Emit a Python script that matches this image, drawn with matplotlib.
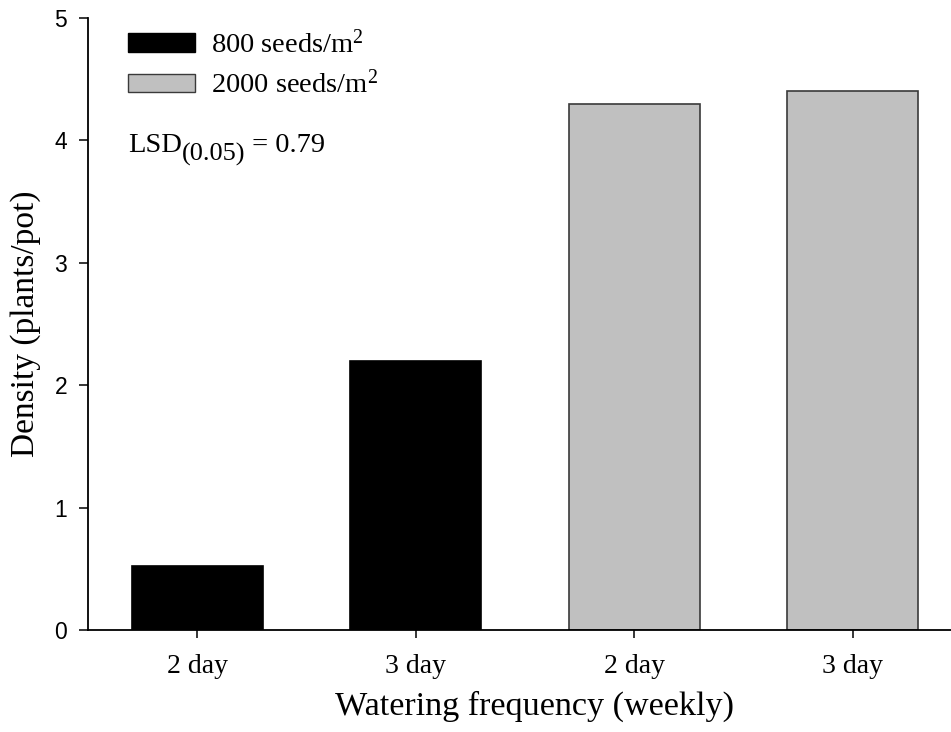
"""
Seedling density by watering frequency and sowing rate
"""

import matplotlib
matplotlib.use('Agg')
import matplotlib.pyplot as plt
from matplotlib.patches import Patch

# Data
tick_labels = ['2 day', '3 day', '2 day', '3 day']
density = [0.52, 2.20, 4.30, 4.40]
groups = ['800', '800', '2000', '2000']
lsd_value = 0.79

colors = {'800': 'black', '2000': '#c0c0c0'}
edges = {'800': 'black', '2000': '#3a3a3a'}

plt.rcParams['mathtext.fontset'] = 'custom'
plt.rcParams['mathtext.rm'] = 'Liberation Serif'
plt.rcParams['mathtext.it'] = 'Liberation Serif:italic'

W, H = 951, 732
fig = plt.figure(figsize=(W / 100, H / 100), dpi=100)
# axes box in pixels: left spine at 88, x-axis at 630, top at 18
ax = fig.add_axes([88 / W, (H - 630) / H, 874 / W, (630 - 18) / H])

x = list(range(len(density)))
ax.bar(x, density, width=0.6,
       color=[colors[g] for g in groups],
       edgecolor=[edges[g] for g in groups], linewidth=1.2)

ax.set_xlim(-0.5, 3.5)
ax.set_ylim(0, 5)
ax.set_yticks([0, 1, 2, 3, 4, 5])
ax.set_xticks(x)
ax.set_xticklabels(tick_labels, family='Liberation Serif', fontsize=20)
for lab in ax.get_yticklabels():
    lab.set_family('Liberation Sans')
    lab.set_fontsize(16.5)

for side in ['top', 'right']:
    ax.spines[side].set_visible(False)
for side in ['left', 'bottom']:
    ax.spines[side].set_linewidth(1.3)
ax.tick_params(axis='y', length=6.5, width=1.1, pad=8.5)
ax.tick_params(axis='x', length=6, width=1.1, pad=11)

ax.set_xlabel('Watering frequency (weekly)', family='Liberation Serif',
              fontsize=24.6)
ax.xaxis.set_label_coords((535 - 88) / 874, -(691 - 630) / 612)
ax.xaxis.label.set_va('top')
ax.set_ylabel('Density (plants/pot)', family='Liberation Serif',
              fontsize=24, labelpad=10)

# legend
handles = [Patch(facecolor=colors['800'], edgecolor=edges['800'], linewidth=1),
           Patch(facecolor=colors['2000'], edgecolor=edges['2000'], linewidth=1)]
leg = ax.legend(handles, ['800 seeds/m$^2$', '2000 seeds/m$^2$'],
                loc='upper left', bbox_to_anchor=(26 / 874, 1.0 + 2 / 612),
                frameon=False, borderaxespad=0.2, borderpad=0.3,
                handlelength=2.35, handleheight=0.63, handletextpad=0.55,
                labelspacing=0.41,
                prop={'family': 'Liberation Serif', 'size': 20.5})

# LSD annotation with a full-size subscript
t1 = ax.text((128 - 88) / 874, 1 - (152 - 18) / (630 - 18), 'LSD',
             transform=ax.transAxes, family='Liberation Serif', fontsize=20.5,
             ha='left', va='baseline')
t2 = ax.annotate('(0.05)', xy=(1, 0), xycoords=t1, xytext=(0, -6),
                 textcoords='offset points', family='Liberation Serif',
                 fontsize=19, ha='left', va='bottom')
t3 = ax.annotate(f' = {lsd_value:.2f}', xy=(1, 0), xycoords=t2,
                 xytext=(0, 6), textcoords='offset points',
                 family='Liberation Serif', fontsize=20.5, ha='left', va='bottom')

fig.savefig('out.png', dpi=100)
